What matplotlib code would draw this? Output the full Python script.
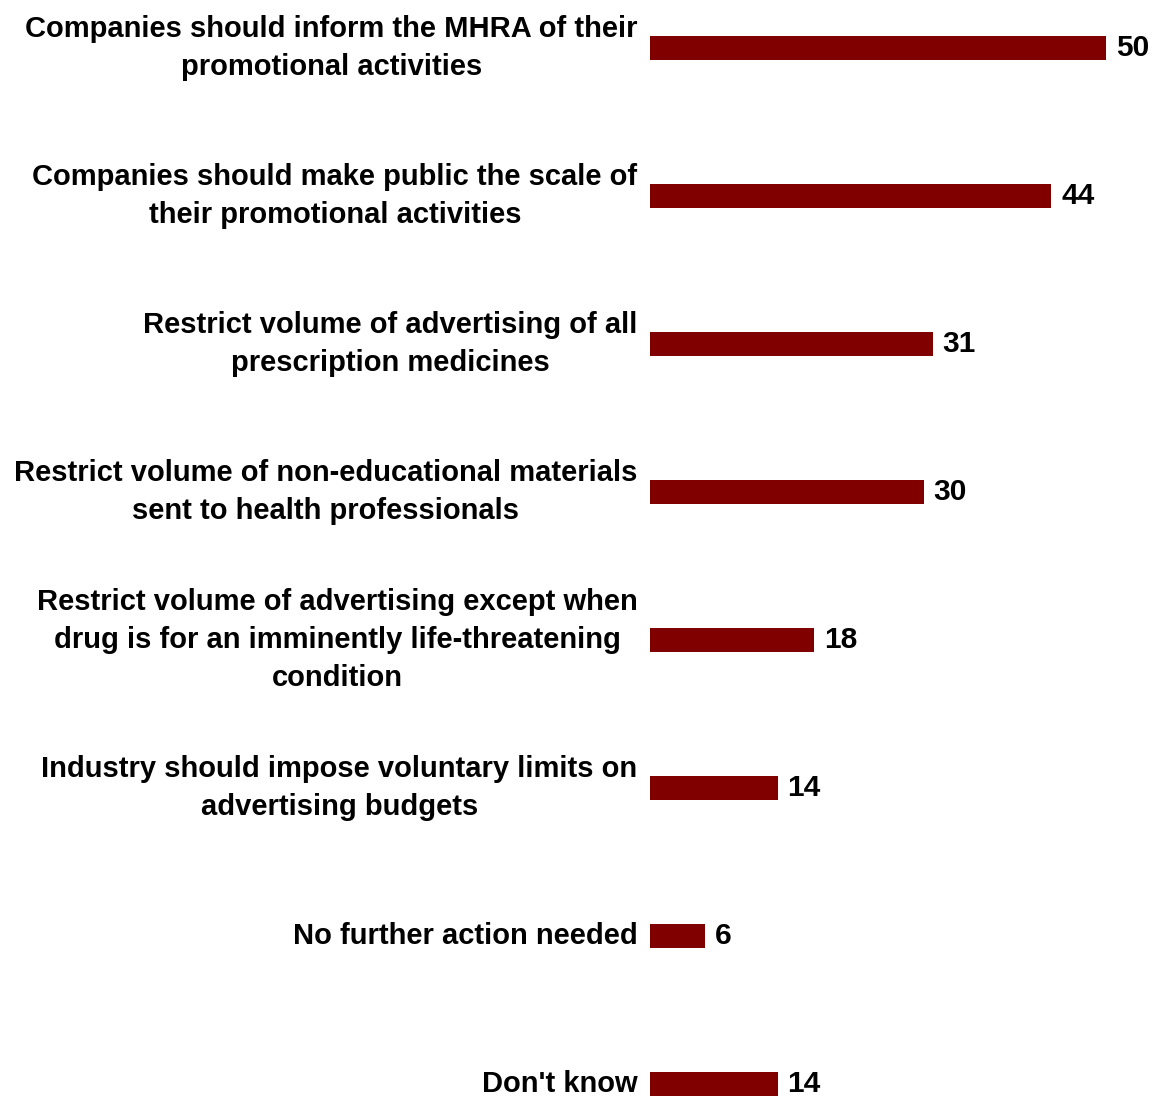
import matplotlib.pyplot as plt

plt.rcParams['font.family'] = ['Liberation Sans', 'DejaVu Sans']

# survey responses, percent
labels = [
    "Companies should inform the MHRA of their\npromotional activities",
    "Companies should make public the scale of\ntheir promotional activities",
    "Restrict volume of advertising of all\nprescription medicines",
    "Restrict volume of non-educational materials\nsent to health professionals",
    "Restrict volume of advertising except when\ndrug is for an imminently life-threatening\ncondition",
    "Industry should impose voluntary limits on\nadvertising budgets",
    "No further action needed",
    "Don't know",
]
values = [50, 44, 31, 30, 18, 14, 6, 14]

W, H = 1155, 1097
fig = plt.figure(figsize=(W / 100, H / 100), dpi=100)
ax = fig.add_axes([650 / W, 0, (W - 650) / W, 1])

ypos = list(range(len(values)))
bars = ax.barh(ypos, values, height=0.162, color='#800000')

ax.set_xlim(0, (W - 650) / 9.12)
ax.set_ylim(7 + 13 / 148, -48 / 148)

for b, v in zip(bars, values):
    ax.annotate(str(v), (b.get_width(), b.get_y() + b.get_height() / 2),
                xytext=(7, 0), textcoords='offset points',
                ha='left', va='center', fontsize=21.5, fontweight='bold')

ax.set_yticks(ypos)
ax.set_yticklabels(labels, fontsize=21, fontweight='bold')
for t in ax.get_yticklabels():
    t.set_multialignment('center')
    t.set_linespacing(1.45)
    t.set_verticalalignment('center')
ax.tick_params(axis='y', length=0, pad=9)
ax.set_xticks([])
for s in ax.spines.values():
    s.set_visible(False)

fig.savefig('out.png', dpi=100)
